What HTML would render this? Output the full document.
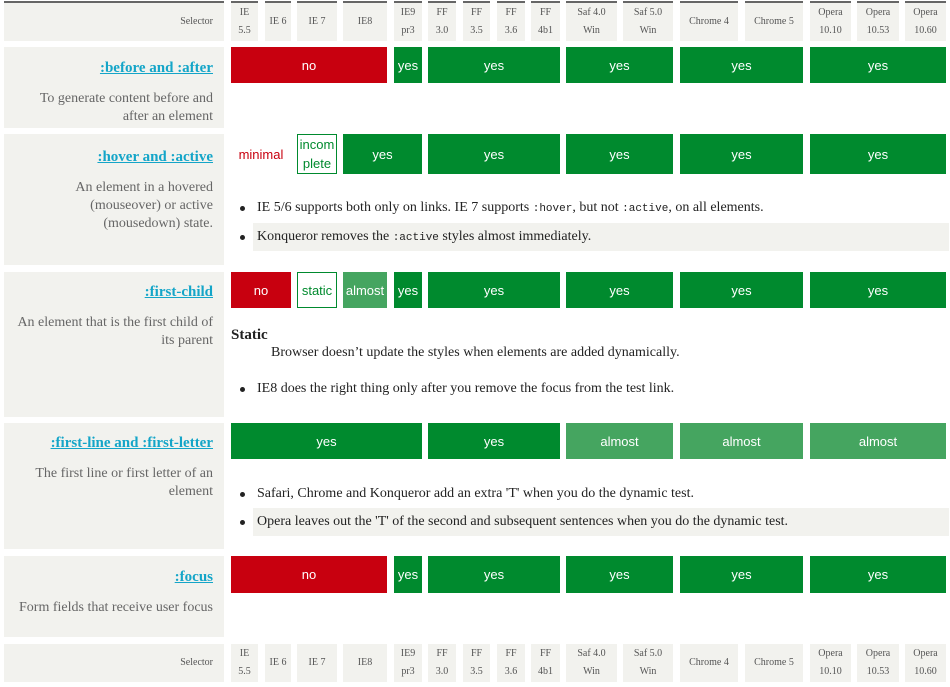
<!DOCTYPE html>
<html><head><meta charset="utf-8">
<style>
body{margin:0;width:950px;height:687px;background:#fff;position:relative;overflow:hidden;font-family:"Liberation Serif",serif}
.a{position:absolute;box-sizing:border-box}
.h{background:#f2f2ee;color:#555;font-size:10px;text-align:center;display:flex;align-items:center;justify-content:center;line-height:18px;font-family:"Liberation Serif",serif}
.top{border-top:2px solid #666}
.lab{background:#f2f2ee;text-align:right;padding-right:11px;color:#666;font-size:14px;line-height:18px}
.lab a{color:#14a5c8;font-weight:bold;font-size:15px;text-decoration:underline;display:block}
.c{color:#fff;font-family:"Liberation Sans",sans-serif;font-size:13px;display:flex;align-items:center;justify-content:center;text-align:center;line-height:19px}
.no{background:#c8000f}.yes{background:#008a2e}.alm{background:#45a560}
.out{border:1px solid #008a2e;color:#008a2e;background:#fff}
.min{color:#c8000f}
.note{font-size:14px;color:#222;line-height:18px}
.note code{font-family:"Liberation Mono",monospace;font-size:11px}
.dot{position:absolute;width:5px;height:5px;border-radius:50%;background:#222}
</style></head><body>
<script>
const cols=[[231,258,'IE<br>5.5'],[265,291,'IE 6'],[297,337,'IE 7'],[343,387,'IE8'],[394,422,'IE9<br>pr3'],[428,456,'FF<br>3.0'],[463,490,'FF<br>3.5'],[497,525,'FF<br>3.6'],[531,560,'FF<br>4b1'],[566,617,'Saf 4.0<br>Win'],[623,673,'Saf 5.0<br>Win'],[680,738,'Chrome 4'],[745,803,'Chrome 5'],[810,851,'Opera<br>10.10'],[857,899,'Opera<br>10.53'],[905,946,'Opera<br>10.60']];
const rowsY=[[47,128],[134,265],[272,417],[423,549],[556,637]];
const titles=[':before and :after',':hover and :active',':first-child',':first-line and :first-letter',':focus'];
const descs=['To generate content before and after an element','An element in a hovered (mouseover) or active (mousedown) state.','An element that is the first child of its parent','The first line or first letter of an element','Form fields that receive user focus'];
// cells: [fromCol,toCol,value]
const cells=[
[[0,3,'no'],[4,4,'yes'],[5,8,'yes'],[9,10,'yes'],[11,12,'yes'],[13,15,'yes']],
[[0,1,'minimal'],[2,2,'incom plete'],[3,4,'yes'],[5,8,'yes'],[9,10,'yes'],[11,12,'yes'],[13,15,'yes']],
[[0,1,'no'],[2,2,'static'],[3,3,'almost'],[4,4,'yes'],[5,8,'yes'],[9,10,'yes'],[11,12,'yes'],[13,15,'yes']],
[[0,4,'yes'],[5,8,'yes'],[9,10,'almost'],[11,12,'almost'],[13,15,'almost']],
[[0,3,'no'],[4,4,'yes'],[5,8,'yes'],[9,10,'yes'],[11,12,'yes'],[13,15,'yes']]];
const barH=[36,40,36,36,37];
function add(cls,x,y,w,h,html){const d=document.createElement('div');d.className='a '+cls;d.style.left=x+'px';d.style.top=y+'px';d.style.width=w+'px';d.style.height=h+'px';d.innerHTML=html;document.body.appendChild(d);return d;}
[[1,40,'top'],[644,38,'']].forEach(([y,h,t])=>{
 const s=add('h '+t,4,y,220,h,'Selector');s.style.justifyContent='flex-end';s.style.paddingRight='11px';
 
 
 cols.forEach(c=>{const e=add('h '+t,c[0],y,c[1]-c[0],h,c[2]);
  
  });
});
rowsY.forEach((r,i)=>{
 const l=add('lab',4,r[0],220,r[1]-r[0],'');
 
 
 const a=document.createElement('a');a.href='#';a.textContent=titles[i];a.style.marginTop=(i==0||i==4?12:i==1?14:11)+'px';a.style.marginBottom='13px';
 
 
 l.appendChild(a);const p=document.createElement('div');p.textContent=descs[i];p.style.paddingLeft='12px';l.appendChild(p);
 if(i==4)p.style.marginTop='6px';
 cells[i].forEach(c=>{const x0=cols[c[0]][0],x1=cols[c[1]][1];const v=c[2];
  let cls=v=='no'?'no':v=='yes'?'yes':v=='almost'?'alm':v=='minimal'?'min':'out';
  const e=add('c '+cls,x0,r[0],x1-x0,barH[i],v=='incom plete'?'incom<br>plete':v);
  
  });
});
function note(y,html,bg){const n=add('note',253,y-14,696,28,html);n.style.padding='5px 4px';if(bg)n.style.background='#f2f2ee';
 
 
 const d=document.createElement('div');d.className='dot';d.style.left='240px';d.style.top=(y-2)+'px';document.body.appendChild(d);}
note(208,'IE 5/6 supports both only on links. IE 7 supports <code>:hover</code>, but not <code>:active</code>, on all elements.');
note(237,'Konqueror removes the <code>:active</code> styles almost immediately.',1);
note(389,'IE8 does the right thing only after you remove the focus from the test link.');
note(494,'Safari, Chrome and Konqueror add an extra \'T\' when you do the dynamic test.');
note(522,'Opera leaves out the \'T\' of the second and subsequent sentences when you do the dynamic test.',1);
const s1=add('note',231,326,200,18,'<b>Static</b>');s1.style.fontSize='15px';


const s2=add('note',271,344,600,18,'Browser doesn’t update the styles when elements are added dynamically.');


</script>
</body></html>
